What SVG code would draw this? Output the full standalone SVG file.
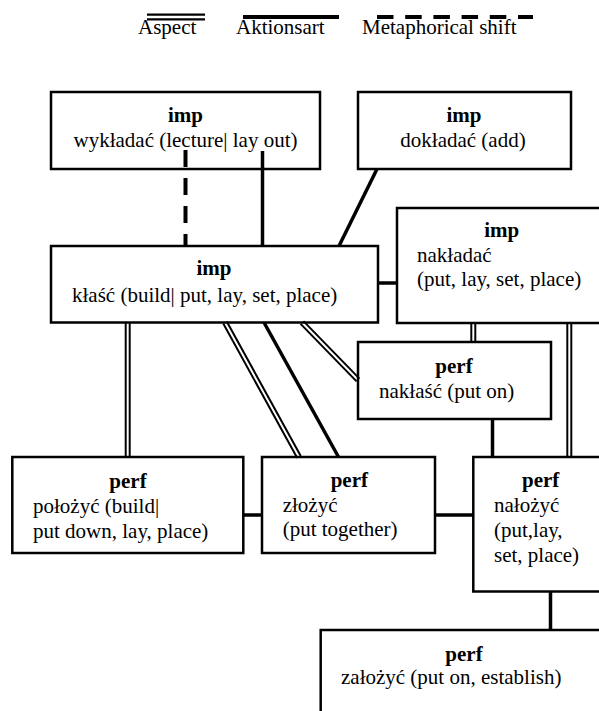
<svg xmlns="http://www.w3.org/2000/svg" width="599" height="711" viewBox="0 0 599 711">
  <style>
    text { font-family: "Liberation Serif", "Times New Roman", serif; font-size: 21px; fill: #000; }
    .b { font-weight: bold; }
    .m { text-anchor: middle; }
    .box { fill: none; stroke: #000; stroke-width: 2.5; }
    .solid { stroke: #000; stroke-width: 3.5; fill: none; }
    .dash { stroke: #000; stroke-width: 4; stroke-dasharray: 17 11; fill: none; }
    .dblo { stroke: #000; stroke-width: 6; fill: none; }
    .dbli { stroke: #fff; stroke-width: 2; fill: none; }
  </style>
  <rect width="599" height="711" fill="#fff"/>

  <!-- legend -->
  <g id="legend">
    <line x1="147" y1="17" x2="205" y2="17" stroke="#000" stroke-width="7"/>
    <line x1="147" y1="17" x2="205" y2="17" stroke="#fff" stroke-width="2.5"/>
    <text x="138" y="34">Aspect</text>
    <line x1="243" y1="17" x2="339" y2="17" stroke="#000" stroke-width="4"/>
    <text x="236" y="34">Aktionsart</text>
    <line x1="377" y1="17" x2="533" y2="17" stroke="#000" stroke-width="4" stroke-dasharray="16.5 11.7"/>
    <text x="362" y="34">Metaphorical shift</text>
  </g>

  <!-- connectors -->
  <g id="connectors">
    <!-- metaphorical shift -->
    <line class="dash" x1="185.5" y1="150" x2="185.5" y2="246"/>
    <!-- aktionsart -->
    <line class="solid" x1="262.5" y1="151" x2="262.5" y2="246"/>
    <line class="solid" x1="377" y1="169" x2="339" y2="246"/>
    <line class="solid" x1="378" y1="283" x2="397" y2="283"/>
    <line class="solid" x1="264" y1="322.5" x2="338.5" y2="457"/>
    <line class="solid" x1="492.5" y1="419" x2="492.5" y2="457"/>
    <line class="solid" x1="243" y1="515" x2="262" y2="515"/>
    <line class="solid" x1="435" y1="515" x2="473" y2="515"/>
    <line class="solid" x1="550.5" y1="591.5" x2="550.5" y2="630"/>
    <!-- aspect (double lines) -->
    <g>
      <line class="dblo" x1="127.7" y1="322.5" x2="127.7" y2="457"/>
      <line class="dbli" x1="127.7" y1="322.5" x2="127.7" y2="457"/>
      <line class="dblo" x1="225" y1="322.5" x2="299" y2="457"/>
      <line class="dbli" x1="225" y1="322.5" x2="299" y2="457"/>
      <line class="dblo" x1="302" y1="322.5" x2="358" y2="380"/>
      <line class="dbli" x1="302" y1="322.5" x2="358" y2="380"/>
      <line class="dblo" x1="473.3" y1="323" x2="473.3" y2="342"/>
      <line class="dbli" x1="473.3" y1="323" x2="473.3" y2="342"/>
      <line class="dblo" x1="569.3" y1="323" x2="569.3" y2="457"/>
      <line class="dbli" x1="569.3" y1="323" x2="569.3" y2="457"/>
    </g>
  </g>

  <!-- nodes -->
  <g id="wykladac">
    <rect class="box" x="51" y="92" width="269" height="77"/>
    <text class="b m" x="185.5" y="122">imp</text>
    <text class="m" x="185.5" y="147">wykładać (lecture| lay out)</text>
  </g>
  <g id="dokladac">
    <rect class="box" x="358" y="92" width="213" height="77"/>
    <text class="b m" x="464" y="122">imp</text>
    <text class="m" x="463" y="147">dokładać (add)</text>
  </g>
  <g id="klasc">
    <rect class="box" x="51" y="246" width="327" height="76.5"/>
    <text class="b m" x="214" y="275">imp</text>
    <text x="72" y="302">kłaść (build| put, lay, set, place)</text>
  </g>
  <g id="nakladac">
    <rect class="box" x="397" y="208" width="220" height="115"/>
    <text class="b m" x="501.7" y="237">imp</text>
    <text x="417" y="262">nakładać</text>
    <text x="417" y="286">(put, lay, set, place)</text>
  </g>
  <g id="naklasc">
    <rect class="box" x="358" y="342" width="193" height="77"/>
    <text class="b m" x="454" y="373">perf</text>
    <text x="379" y="398">nakłaść (put on)</text>
  </g>
  <g id="polozyc">
    <rect class="box" x="12.3" y="457" width="231" height="96"/>
    <text class="b m" x="128" y="488">perf</text>
    <text x="33" y="513">położyć (build|</text>
    <text x="33" y="538">put down, lay, place)</text>
  </g>
  <g id="zlozyc">
    <rect class="box" x="262" y="457" width="173" height="96"/>
    <text class="b m" x="349.3" y="487">perf</text>
    <text x="282.7" y="511.5">złożyć</text>
    <text x="282.7" y="536">(put together)</text>
  </g>
  <g id="nalozyc">
    <rect class="box" x="473.3" y="457" width="140" height="134.5"/>
    <text class="b m" x="540.7" y="487">perf</text>
    <text x="494" y="512">nałożyć</text>
    <text x="494" y="537">(put,lay,</text>
    <text x="494" y="562">set, place)</text>
  </g>
  <g id="zalozyc">
    <rect class="box" x="320.7" y="630" width="300" height="100"/>
    <text class="b m" x="464" y="661">perf</text>
    <text x="341" y="684">założyć (put on, establish)</text>
  </g>
</svg>
